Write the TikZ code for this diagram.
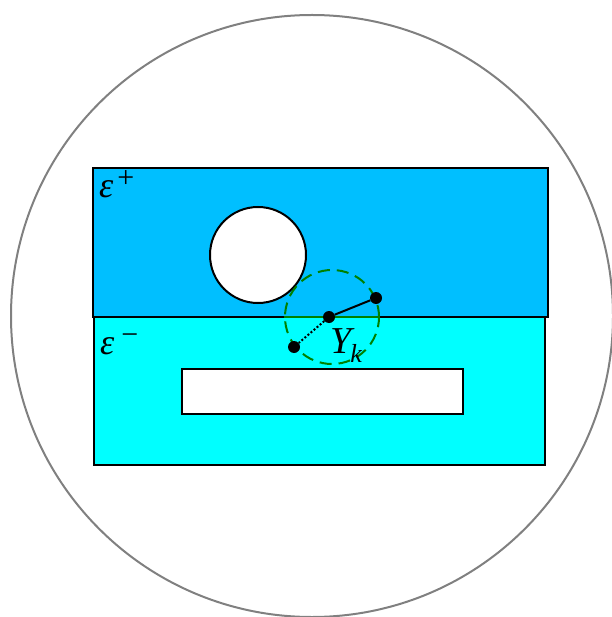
\documentclass[tikz,border=0pt]{standalone}
\usepackage{fontspec}
\setmainfont{Liberation Serif}
\begin{document}
\begin{tikzpicture}[x=1pt,y=-1pt,
  region/.style={draw=black, line width=2pt, inner sep=0pt, outer sep=0pt, anchor=north west},
  hole/.style={draw=black, line width=2pt, fill=white, inner sep=0pt, outer sep=0pt},
  dot/.style={circle, fill=black, inner sep=0pt, minimum size=12pt},
  lbl/.style={inner sep=0pt, anchor=base west}]
\definecolor{upblue}{RGB}{0,191,255}
\definecolor{lowcyan}{RGB}{0,255,255}
\definecolor{dgreen}{RGB}{0,128,0}
\useasboundingbox (0,0) rectangle (611,617);
\node[circle, draw=gray, line width=2pt, minimum size=602pt, inner sep=0pt] (outer) at (312,316) {};
\node[region, fill=lowcyan, minimum width=451pt, minimum height=149pt] (lower) at (94,316) {};
\node[region, fill=upblue, minimum width=455pt, minimum height=148pt] (upper) at (92.5,168.5) {};
\node[hole, circle, minimum size=96pt] (hcirc) at (258,255) {};
\node[hole, rectangle, minimum width=281pt, minimum height=45pt, anchor=north west] (hrect) at (182,369) {};
\node[circle, draw=dgreen, dash pattern=on 12pt off 7pt, line width=2pt, minimum size=94pt, inner sep=0pt] (gc) at (332,317) {};
\draw[dgreen, line width=2pt] (gc.west) -- (gc.east);
\node[dot] (m) at (329,317) {};
\node[dot] (r) at (376,298) {};
\node[dot] (l) at (294,347) {};
\draw[line width=2pt] (m) -- (r);
\draw[line width=2pt, dotted] (m) -- (l);
\node[lbl] (ep) at (99,198) {\fontsize{36}{40}\selectfont\itshape ε\upshape\kern4pt\raisebox{10pt}{\fontsize{30}{30}\selectfont +}};
\node[lbl] (em) at (100,354) {\fontsize{36}{40}\selectfont\itshape ε\upshape\kern7pt\raisebox{10pt}{\fontsize{30}{30}\selectfont −}};
\node[lbl] (ups) at (330,353) {\fontsize{38}{40}\selectfont\itshape Υ\kern-1pt\raisebox{-9pt}{\fontsize{26}{26}\selectfont k}};
\end{tikzpicture}
\end{document}
